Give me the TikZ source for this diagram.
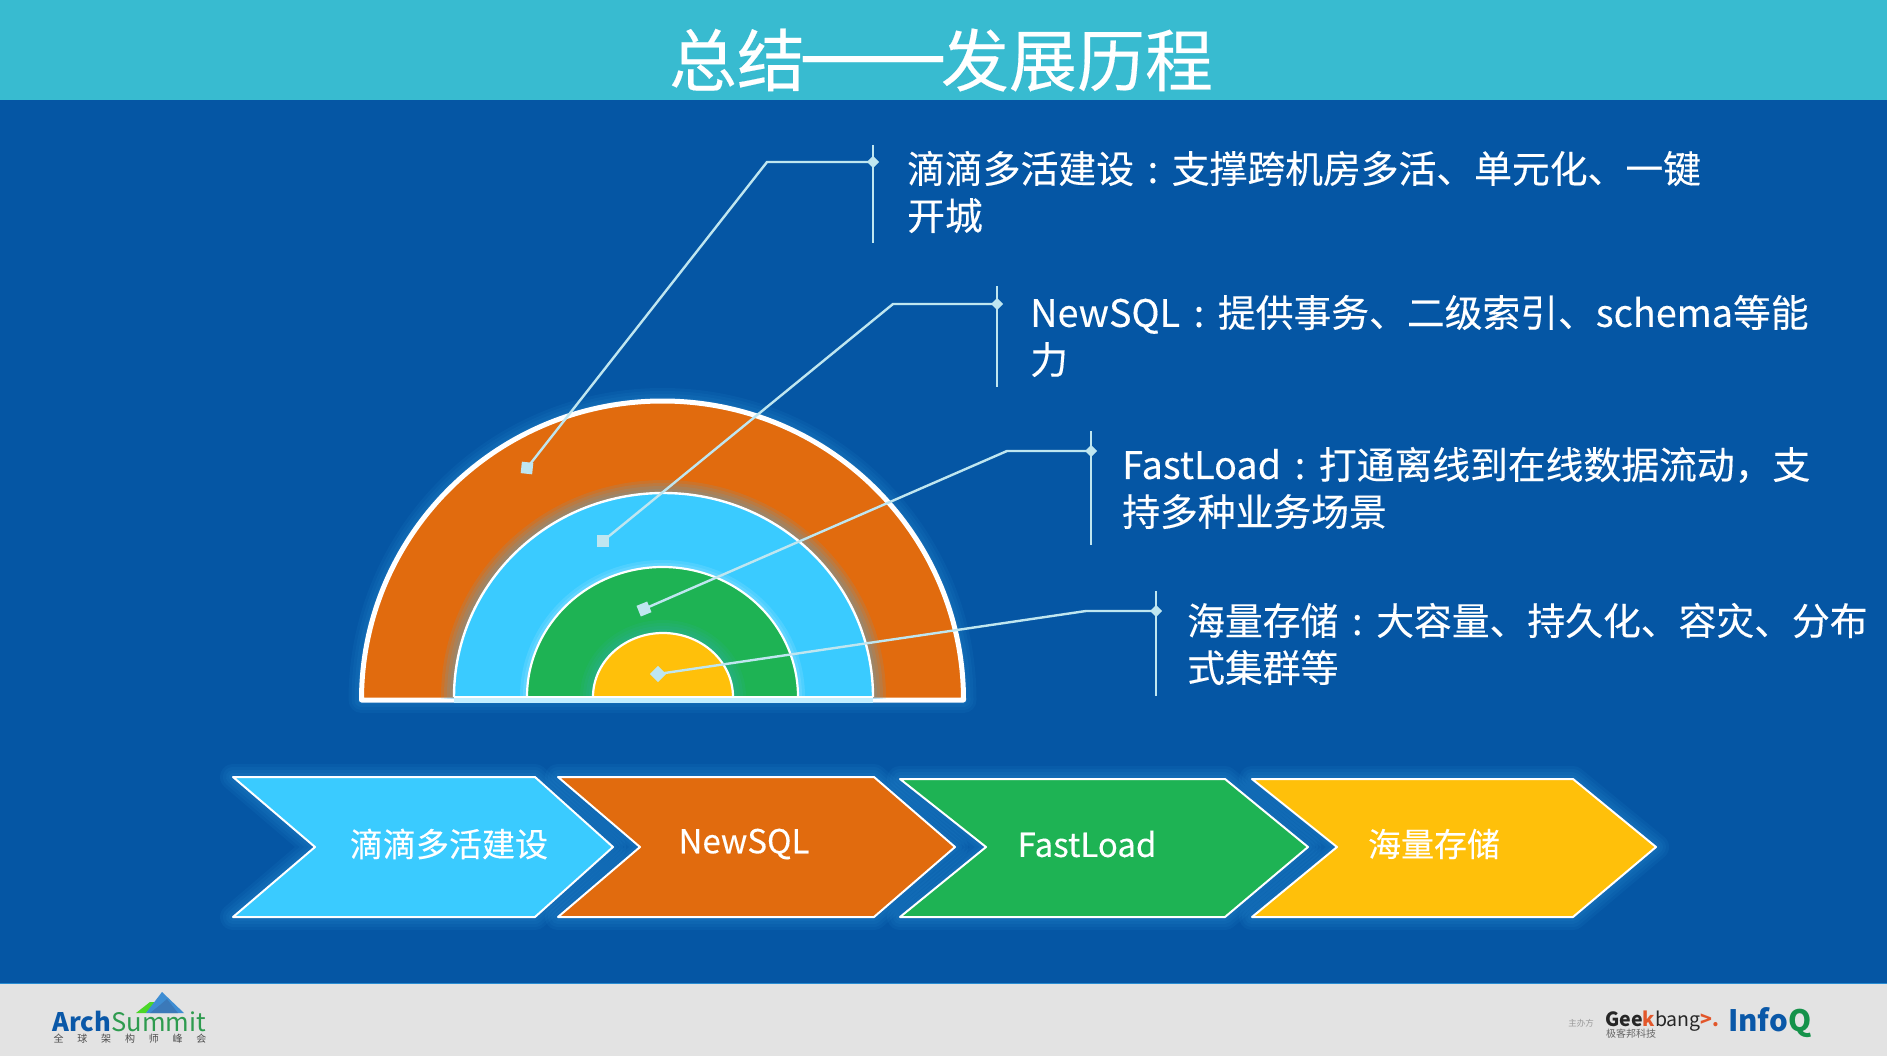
\documentclass[tikz,border=0pt]{standalone}
\usepackage{fontspec}
\setmainfont{Noto Sans CJK SC}
\newfontface\medf{Noto Sans CJK SC}[FakeBold=0.25]
\newcommand{\cln}{\hbox to 1em{\hss:\hss}}
\definecolor{bgblue}{HTML}{0556A4}
\definecolor{teal1}{HTML}{38BBD0}
\definecolor{foot}{HTML}{E3E3E3}
\definecolor{corange}{HTML}{E16B0E}
\definecolor{ccyan}{HTML}{3ACBFF}
\definecolor{cgreen}{HTML}{1EB354}
\definecolor{cyellow}{HTML}{FFC00A}
\definecolor{lead}{HTML}{BFE6F0}
\definecolor{glowc}{HTML}{3FB0F0}
\definecolor{logoblue}{HTML}{0A58A8}
\definecolor{logogreen}{HTML}{2E9B4F}
\definecolor{qgreen}{HTML}{15924A}
\definecolor{gkorange}{HTML}{E2562A}
\tikzset{
  x=1pt,y=-1pt,
  lbl/.style={anchor=west,inner sep=0pt,text=white,font=\medf\fontsize{37.8}{47}\selectfont,align=left,text width=#1},
  chevlabel/.style={inner sep=0pt,text=white,font=\medf\fontsize{33}{38}\selectfont},
  leader/.style={draw=lead,line width=2.4pt},
  bar/.style={draw=lead,line width=2.8pt},
  dot/.style={fill=lead,inner sep=0pt,minimum size=11.5pt,shape=rectangle},
  junc/.style={fill=lead,inner sep=0pt,minimum size=8.5pt,rotate=45,shape=rectangle},
  glowA/.style={draw=glowc,draw opacity=.065,line width=#1,line join=round},
  rim/.style={draw=white,line width=#1,line join=round},
}
\newcommand{\glowstroke}[1]{%
  \draw[glowA=26pt] #1;
  \draw[glowA=20pt] #1;
  \draw[glowA=14pt] #1;
  \draw[glowA=8pt] #1;
}
\newcommand{\chevron}[8]{%
  \path[save path=\chevpath] (#1,#5)--(#2,#5)--(#3,#7)--(#2,#6)--(#1,#6)--(#4,#7)--cycle;
  \glowstroke{[use path=\chevpath]}
  \fill[#8,rim=2pt,use path=\chevpath];
}
\begin{document}
\begin{tikzpicture}
\useasboundingbox (0,0) rectangle (1892,1056);
\fill[white] (0,0) rectangle (1892,1056);
\fill[bgblue] (0,100) rectangle (1887,983);
\fill[teal1] (0,0) rectangle (1887,100);
\fill[foot] (0,983) rectangle (1887,1056);
\draw[draw=glowc!60!bgblue,line width=1pt] (0,983)--(1887,983);
\node[inner sep=0pt,text=white,font=\medf\fontsize{68}{72}\selectfont] (title) at (941,60) {总结\hbox to 2em{\hss\scalebox{1.3}[1.4]{——}\hss}发展历程};

% rainbow
\path[save path=\arcO] (361.5,700) arc[start angle=180,end angle=360,x radius=301,y radius=299] -- cycle;
\glowstroke{[use path=\arcO]}
\fill[corange,rim=5pt,use path=\arcO];
\path[save path=\arcB] (454,697) arc[start angle=180,end angle=360,x radius=209.5,y radius=204] -- cycle;
\begin{scope}
 \clip (300,380) rectangle (1020,698);
 \draw[draw=glowc,draw opacity=.12,line width=26pt,line join=round] [use path=\arcB];
 \draw[draw=glowc,draw opacity=.12,line width=20pt,line join=round] [use path=\arcB];
 \draw[draw=glowc,draw opacity=.12,line width=14pt,line join=round] [use path=\arcB];
 \draw[draw=glowc,draw opacity=.12,line width=8pt,line join=round] [use path=\arcB];
\end{scope}
\fill[ccyan,use path=\arcB];
\draw[draw=white,line width=2.4pt] (454,697) arc[start angle=180,end angle=360,x radius=209.5,y radius=204];
\path[save path=\arcG] (527,697) arc[start angle=180,end angle=360,x radius=135.5,y radius=130] -- cycle;
\begin{scope}
 \clip (300,380) rectangle (1020,698);
 \draw[draw=white,draw opacity=.1,line width=14pt,line join=round] [use path=\arcG];
 \draw[draw=white,draw opacity=.1,line width=8pt,line join=round] [use path=\arcG];
\end{scope}
\fill[cgreen,use path=\arcG];
\draw[draw=white,line width=2.2pt] (527,697) arc[start angle=180,end angle=360,x radius=135.5,y radius=130];
\path[save path=\arcY] (593,697) arc[start angle=180,end angle=360,x radius=70,y radius=64] -- cycle;
\begin{scope}
 \clip (300,380) rectangle (1020,698);
 \glowstroke{[use path=\arcY]}
\end{scope}
\fill[cyellow,use path=\arcY];
\draw[draw=white,line width=2.2pt] (593,697) arc[start angle=180,end angle=360,x radius=70,y radius=64];
\fill[white] (454,695.5) rectangle (873,698);
\fill[white!70!ccyan] (454,698) rectangle (873,702.5);

% leaders
\node[dot,rotate=-6] (d1) at (527,468) {};
\node[dot,rotate=0] (d2) at (603,541) {};
\node[dot,rotate=22] (d3) at (644,609) {};
\node[dot,rotate=45] (d4) at (658,674) {};
\coordinate (e1) at (767,162);\coordinate (j1) at (873,162);
\coordinate (e2) at (893,304);\coordinate (j2) at (997,304);
\coordinate (e3) at (1007,451);\coordinate (j3) at (1091,451);
\coordinate (e4) at (1086,611);\coordinate (j4) at (1156,611);
\draw[leader] (d1.center)--(e1)--(j1);
\draw[leader] (d2.center)--(e2)--(j2);
\draw[leader] (d3.center)--(e3)--(j3);
\draw[leader] (d4.center)--(e4)--(j4);
\node[junc] at (j1) {};\node[junc] at (j2) {};\node[junc] at (j3) {};\node[junc] at (j4) {};
\coordinate (b1a) at (873,145);\coordinate (b1b) at (873,243);
\coordinate (b2a) at (997,286);\coordinate (b2b) at (997,387);
\coordinate (b3a) at (1091,431);\coordinate (b3b) at (1091,545);
\coordinate (b4a) at (1156,591);\coordinate (b4b) at (1156,696);
\draw[bar] (b1a)--(b1b);\draw[bar] (b2a)--(b2b);\draw[bar] (b3a)--(b3b);\draw[bar] (b4a)--(b4b);

\node[lbl=950pt] (t1) at (907,192) {滴滴多活建设\cln 支撑跨机房多活、单元化、一键\\开城};
\node[lbl=850pt] (t2) at (1030,336) {NewSQL\cln 提供事务、二级索引、schema等能\\力};
\node[lbl=760pt] (t3) at (1122,488) {FastLoad\cln 打通离线到在线数据流动，支\\持多种业务场景};
\node[lbl=700pt] (t4) at (1187,644) {海量存储\cln 大容量、持久化、容灾、分布\\式集群等};

% chevrons
\chevron{233}{535}{613}{315}{777}{917}{847}{ccyan}
\chevron{558}{874}{955}{640}{777}{917}{847}{corange}
\chevron{900}{1225}{1308}{986}{779}{917}{847}{cgreen}
\chevron{1252}{1573}{1656}{1337}{779}{917}{847}{cyellow}
\node[chevlabel] (c1) at (449,844) {滴滴多活建设};
\node[chevlabel] (c2) at (744,844) {NewSQL};
\node[chevlabel] (c3) at (1087,844) {FastLoad};
\node[chevlabel] (c4) at (1434,844) {海量存储};

% footer logos
\fill[green!55!teal!70!yellow] (136,1013)--(150,1002)--(158,1002)--(146,1013)--cycle;
\fill[cyan!60!blue!80!white] (162,992)--(184,1013)--(146,1013)--cycle;
\fill[logoblue!80!white] (160,1005)--(167,999)--(178,1013)--(150,1013)--cycle;
\node[anchor=base west,inner sep=0pt,font=\fontsize{25.5}{28}\selectfont\bfseries,text=logoblue] (arch) at (52,1031) {Arch};
\node[anchor=base west,inner sep=0pt,font=\fontsize{25.5}{28}\selectfont,text=logogreen] (summit) at (arch.base east) {Summit};
\node[anchor=center,inner sep=0pt,font=\fontsize{10}{12}\selectfont,text=black!70] (archcn) at (130,1039) {全\hspace{1.38em}球\hspace{1.38em}架\hspace{1.38em}构\hspace{1.38em}师\hspace{1.38em}峰\hspace{1.38em}会};
\node[inner sep=0pt,font=\fontsize{8.5}{10}\selectfont,text=black!40] (zhuban) at (1581,1023) {主办方};
\node[anchor=base west,inner sep=0pt,font=\fontsize{19.5}{22}\selectfont\bfseries,text=black!85] (geek) at (1605,1026) {Gee\textcolor{gkorange}{k}\mdseries bang\textcolor{gkorange}{\bfseries>.}};
\node[anchor=west,inner sep=0pt,font=\fontsize{10}{12}\selectfont,text=black!60] (jike) at (1606,1034) {极客邦科技};
\node[anchor=base west,inner sep=0pt,font=\fontsize{29.5}{32}\selectfont\bfseries,text=logoblue] (infoq) at (1728,1031) {Info\textcolor{qgreen}{Q}};
\end{tikzpicture}
\end{document}
